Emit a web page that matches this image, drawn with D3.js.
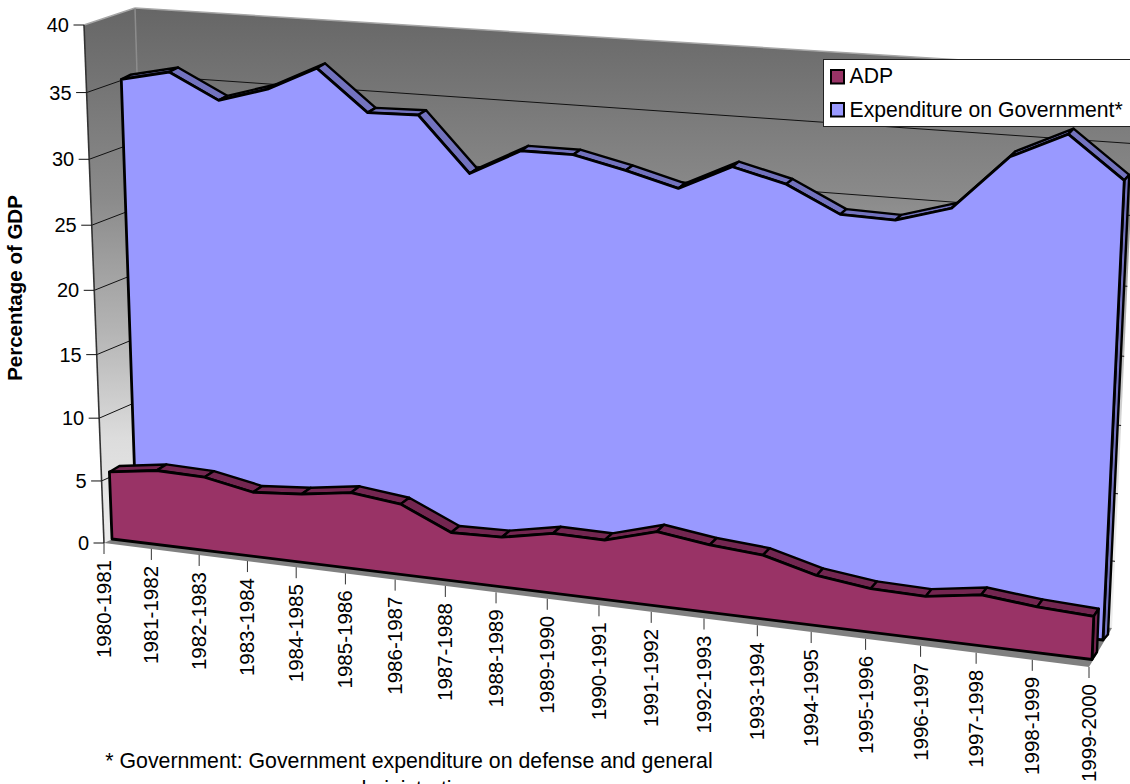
<!DOCTYPE html>
<html>
<head>
<meta charset="utf-8">
<script src="https://cdnjs.cloudflare.com/ajax/libs/d3/7.8.5/d3.min.js"></script>
<style>
  html, body { margin: 0; padding: 0; background: #fff; overflow: hidden; }
  svg { display: block; }
  text { font-family: "Liberation Sans", Arial, sans-serif; fill: #000; }
</style>
</head>
<body>
<svg id="chart" width="1130" height="784"></svg>
<script>
const years = ["1980-1981","1981-1982","1982-1983","1983-1984","1984-1985","1985-1986","1986-1987",
  "1987-1988","1988-1989","1989-1990","1990-1991","1991-1992","1992-1993","1993-1994","1994-1995",
  "1995-1996","1996-1997","1997-1998","1998-1999","1999-2000"];
const adp = [5.4,5.95,5.85,5.1,5.4,5.95,5.5,3.75,3.85,4.6,4.55,5.65,5.1,4.8,3.75,3.25,3.15,3.75,3.35,3.15];
const government = [35.0,35.8,33.95,35.05,36.85,33.85,33.95,29.95,31.9,31.9,31.05,30.05,31.9,30.95,29.1,29.0,30.15,34.05,35.9,33.0];
const valueTicks = [0,5,10,15,20,25,30,35,40];
const footnote = ["* Government: Government expenditure on defense and general", "administration"];
const legendItems = ["ADP", "Expenditure on Government*"];

const adpColor = "#993366", adpTop = "#732650";
const govColor = "#9999FF", govTop = "#7373BF";

// Each plane of the 3-D box: corners at value 0 (lb, rb) and value 40 (lt, rt).
const planes = {
  axis:    { lb:[104,543],   rb:[1089,667],   lt:[84,25],  rt:[1112,93] },
  adpF:    { lb:[112,539],   rb:[1092,659.5], lt:[92,21],  rt:[1115,85.5] },
  adpB:    { lb:[122,533],   rb:[1097,652],   lt:[102,15], rt:[1120,78] },
  govF:    { lb:[136.5,528], rb:[1103,640],   lt:[119,12], rt:[1129,78] },
  govB:    { lb:[145.5,523.5],rb:[1108,634.5],lt:[128,7.5],rt:[1134,72.5] },
  wall:    { lb:[151,521],   rb:[1112,628],   lt:[135,8],  rt:[1137,71] }
};

// Foreshortening along both axes of the box.
const warp = k => t => t / (k - (k - 1) * t);
const warpX = warp(1.1), warpY = warp(1.05);
const x = d3.scalePoint().domain(years).range([0, 1]);
const y = d3.scaleLinear().domain([0, 40]).range([0, 1]);

function project(plane, year, value) {
  return at(plane, warpX(x(year)), warpY(y(value)));
}
function at(plane, u, v) {
  const p = planes[plane];
  const bx = p.lb[0] + (p.rb[0] - p.lb[0]) * u, by = p.lb[1] + (p.rb[1] - p.lb[1]) * u;
  const tx = p.lt[0] + (p.rt[0] - p.lt[0]) * u, ty = p.lt[1] + (p.rt[1] - p.lt[1]) * u;
  return [bx + (tx - bx) * v, by + (ty - by) * v];
}

const svg = d3.select("#chart");
const poly = d3.line().curve(d3.curveLinearClosed);
const seg = d3.line();

// Wall shading darkens toward the top of the box.
const grad = svg.append("defs").append("linearGradient").attr("id", "wallShade")
  .attr("gradientUnits", "userSpaceOnUse").attr("x1", 0).attr("x2", 0).attr("y1", 8).attr("y2", 545);
[[0,"#666666"],[0.35,"#8a8a8a"],[0.6,"#b4b4b4"],[0.8,"#dcdcdc"],[1,"#ececec"]].forEach(s =>
  grad.append("stop").attr("offset", s[0]).attr("stop-color", s[1]));

const first = years[0], last = years[years.length - 1];
const box = svg.append("g");

// Back wall, side wall, floor
box.append("path").attr("fill", "url(#wallShade)")
  .attr("d", poly([at("wall",0,0), at("wall",1,0), at("wall",1,1), at("wall",0,1)]));
box.append("path").attr("fill", "url(#wallShade)")
  .attr("d", poly([at("axis",0,0), at("wall",0,0), at("wall",0,1), at("axis",0,1)]));
box.append("path").attr("fill", "#808080")
  .attr("d", poly([at("axis",0,0), at("axis",1,0), at("wall",1,0), at("wall",0,0)]));

// Pale rims along the top of the walls and the inner corner
[[at("axis",0,1), at("wall",0,1)], [at("wall",0,1), at("wall",1,1)]].forEach(l =>
  box.append("path").attr("d", seg(l)).attr("fill", "none").attr("stroke", "#a6a6a6").attr("stroke-width", 1.5));
box.append("path").attr("d", seg([at("wall",0,1), at("wall",0,0)])).attr("fill", "none")
  .attr("stroke", "#8c8c8c").attr("stroke-width", 1.5);

// Gridlines across both walls
valueTicks.filter(d => d > 0 && d < 40).forEach(d => {
  const v = warpY(y(d));
  box.append("path").attr("fill", "none").attr("stroke", "#111").attr("stroke-width", 1)
    .attr("d", seg([at("axis",0,v), at("wall",0,v), at("wall",1,v)]));
});

// Edges of the box nearest the value axis
box.append("path").attr("d", seg([at("axis",0,1), at("axis",0,0)])).attr("fill", "none")
  .attr("stroke", "#333").attr("stroke-width", 1.6);

// One area ribbon: top facets, end face, then the front face
function ribbon(values, front, back, fill, topFill) {
  const g = svg.append("g").attr("stroke", "#000").attr("stroke-linejoin", "round");
  const f = years.map((yr, i) => project(front, yr, values[i]));
  const b = years.map((yr, i) => project(back, yr, values[i]));
  years.slice(1).forEach((yr, i) => {
    g.append("path").attr("fill", topFill).attr("stroke-width", 2.4)
      .attr("d", poly([f[i], f[i + 1], b[i + 1], b[i]]));
  });
  const n = years.length - 1;
  g.append("path").attr("fill", topFill).attr("stroke-width", 2.4)
    .attr("d", poly([f[n], b[n], project(back, last, 0), project(front, last, 0)]));
  g.append("path").attr("fill", fill).attr("stroke-width", 2.8)
    .attr("d", poly([project(front, first, 0), ...f, project(front, last, 0)]));
}
ribbon(government, "govF", "govB", govColor, govTop);
ribbon(adp, "adpF", "adpB", adpColor, adpTop);

// Value axis
const yAxis = svg.append("g");
valueTicks.forEach(d => {
  const p = at("axis", 0, warpY(y(d)));
  yAxis.append("line").attr("x1", p[0] - 10.5).attr("x2", p[0]).attr("y1", p[1]).attr("y2", p[1])
    .attr("stroke", "#111").attr("stroke-width", 1);
  yAxis.append("text").attr("x", p[0] - 15).attr("y", p[1] + 7).attr("text-anchor", "end")
    .attr("font-size", 20).text(d);
});
svg.append("text").attr("transform", "translate(22,288) rotate(-90)").attr("text-anchor", "middle")
  .attr("font-size", 20.5).attr("font-weight", "bold").text("Percentage of GDP");

// Category axis
const xAxis = svg.append("g");
years.forEach(yr => {
  const p = project("axis", yr, 0);
  xAxis.append("line").attr("x1", p[0]).attr("x2", p[0]).attr("y1", p[1]).attr("y2", p[1] + 11)
    .attr("stroke", "#333").attr("stroke-width", 1);
  xAxis.append("text").attr("transform", `translate(${p[0] + 7},${p[1] + 17}) rotate(-90)`)
    .attr("text-anchor", "end").attr("font-size", 20.5).text(yr);
});

// Legend, running off the right edge
const legend = svg.append("g");
legend.append("rect").attr("x", 823.5).attr("y", 59.5).attr("width", 320).attr("height", 67)
  .attr("fill", "#fff").attr("stroke", "#222").attr("stroke-width", 1);
[adpColor, govColor].forEach((c, i) => {
  legend.append("rect").attr("x", 831).attr("y", 70 + i * 33).attr("width", 13).attr("height", 13.5)
    .attr("fill", c).attr("stroke", "#000").attr("stroke-width", 2);
  legend.append("text").attr("x", 849.5).attr("y", 83 + i * 34).attr("font-size", 21.2).text(legendItems[i]);
});

// Footnote, its second line cut off by the bottom edge
footnote.forEach((t, i) => {
  svg.append("text").attr("x", 409).attr("y", 767.5 + i * 28.5).attr("text-anchor", "middle")
    .attr("font-size", 21.3).text(t);
});
</script>
</body>
</html>
